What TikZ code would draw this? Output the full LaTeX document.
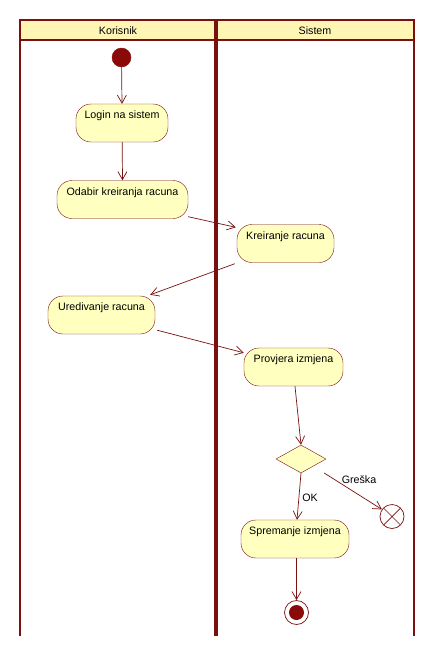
\documentclass[tikz,border=0pt]{standalone}
\usepackage{fontspec}
\setmainfont{Liberation Sans}
\usetikzlibrary{arrows.meta,shapes.geometric}
\definecolor{lc}{HTML}{7A1010}
\definecolor{dotc}{HTML}{8A0A0A}
\definecolor{nodefill}{HTML}{FFFFC0}
\definecolor{headfill}{HTML}{FFF5B4}
\tikzset{
  act/.style={draw=lc, fill=nodefill, rounded corners=15pt, minimum height=38pt,
    text height=10.5pt, text depth=19.5pt, inner ysep=4pt, inner xsep=0pt,
    font=\fontsize{10.7}{12}\selectfont},
  flow/.style={draw=lc, line width=0.7pt, -{Straight Barb[length=8pt,width=9pt,line width=0.7pt]}},
  lbl/.style={font=\fontsize{10.7}{12}\selectfont, inner sep=0pt},
  lane/.style={draw=lc, line width=2pt},
}
\begin{document}
\begin{tikzpicture}[x=1pt,y=-1pt]
\useasboundingbox[fill=white] (0,0) rectangle (435,656);
% swimlanes
\fill[headfill] (20,20) rectangle (414,40);
\draw[lane] (20,636) -- (20,20) -- (414,20) -- (414,636);
\draw[lane] (20,40) -- (414,40);
\draw[draw=lc, line width=4pt] (216,20) -- (216,636);
\node[lbl] (hk) at (118,31) {Korisnik};
\node[lbl] (hs) at (315,31) {Sistem};
% nodes
\node[circle, fill=dotc, draw=dotc, minimum size=19pt, inner sep=0pt] (start) at (121.5,57.5) {};
\node[act, minimum width=92pt] (login) at (122,123) {Login na sistem};
\node[act, minimum width=131pt] (odabir) at (122.5,199.5) {Odabir kreiranja racuna};
\node[act, minimum width=97pt] (kreir) at (285.5,243.5) {Kreiranje racuna};
\node[act, minimum width=107pt] (ured) at (101.5,315) {Uredivanje racuna};
\node[act, minimum width=99pt] (provj) at (293.5,367) {Provjera izmjena};
\node[diamond, draw=lc, fill=nodefill, minimum width=50pt, minimum height=28pt, inner sep=0pt] (dec) at (301,459) {};
\node[act, minimum width=108pt] (sprem) at (295,539) {Spremanje izmjena};
\node[circle, draw=lc, fill=white, minimum size=24pt, inner sep=0pt, line width=0.7pt,
  path picture={\draw[lc, line width=0.7pt] (path picture bounding box.north west) -- (path picture bounding box.south east)
  (path picture bounding box.north east) -- (path picture bounding box.south west);}] (ff) at (392,516.5) {};
\node[circle, draw=lc, fill=white, minimum size=24pt, inner sep=0pt, line width=0.7pt] (final) at (296.5,612.5) {};
\node[circle, fill=dotc, minimum size=15pt, inner sep=0pt] (finaldot) at (final.center) {};
% connectors
\draw[flow] (start) -- (login.north);
\draw[flow] (login) -- (odabir.north);
\draw[flow] ([yshift=2pt]odabir.south east) -- ([xshift=-1pt,yshift=-3pt]kreir.north west);
\draw[flow] ([xshift=-2pt,yshift=-1pt]kreir.south west) -- ([xshift=-5pt,yshift=1pt]ured.north east);
\draw[flow] ([xshift=2pt,yshift=4pt]ured.south east) -- ([yshift=-5pt]provj.north west);
\draw[flow] ([xshift=1.5pt]provj.south) -- (dec.north);
\draw[flow] (dec.south) -- ([xshift=2pt]sprem.north);
\draw[flow] ([xshift=-2pt,yshift=-14pt]dec.east) -- (ff.145);
\draw[flow] ([xshift=1.5pt]sprem.south) -- (final.north);
\node[lbl] (ok) at (310,497.5) {OK};
\node[lbl] (gr) at (359,480) {Greška};
\end{tikzpicture}
\end{document}
